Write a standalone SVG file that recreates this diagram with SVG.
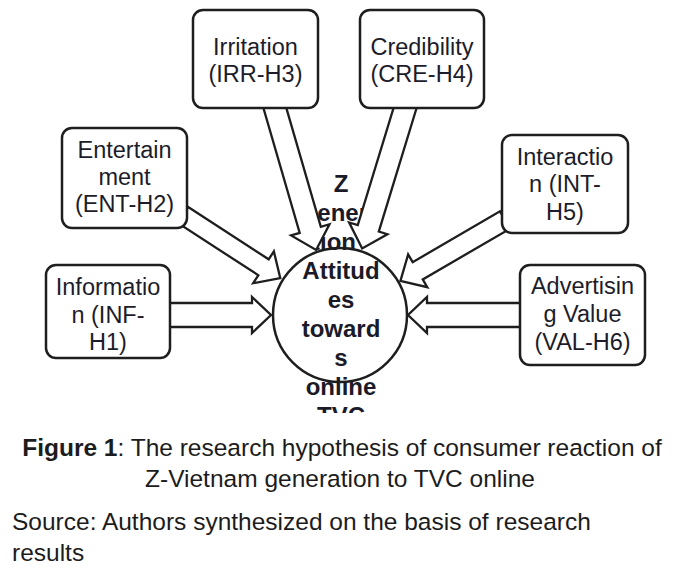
<svg xmlns="http://www.w3.org/2000/svg" width="676" height="576" viewBox="0 0 676 576">
<style>
.box{fill:#fff;stroke:#1e1e1e;stroke-width:2.5}
.arr{fill:#fff;stroke:#1e1e1e;stroke-width:2.3;stroke-linejoin:miter}
.lbl{font-family:"Liberation Sans",Arial,sans-serif;font-size:23.5px;fill:#1c1c2a;text-anchor:middle}
.ctr{font-family:"Liberation Sans",Arial,sans-serif;font-size:24px;font-weight:bold;fill:#1a1a28;text-anchor:middle}
.cap{font-family:"Liberation Sans",Arial,sans-serif;font-size:24.5px;fill:#1c1c1c}
</style>
<defs>
<clipPath id="clipc"><rect x="0" y="0" width="676" height="413"/></clipPath>
</defs>
<rect width="676" height="576" fill="#fff"/>

<g id="center-text" clip-path="url(#clipc)">
<text class="ctr" x="341" y="192">Z</text>
<text class="ctr" x="340" y="221">Genera</text>
<text class="ctr" x="334" y="250">tion</text>
<text class="ctr" x="341" y="279">Attitud</text>
<text class="ctr" x="341" y="308">es</text>
<text class="ctr" x="341" y="337">toward</text>
<text class="ctr" x="341" y="366">s</text>
<text class="ctr" x="341" y="395">online</text>
<text class="ctr" x="341" y="424">TVC</text>
</g>

<g id="center">
<circle cx="340" cy="315" r="67" fill="none" stroke="#1e1e1e" stroke-width="2.5"/>
</g>

<g id="connectors">
<polygon class="arr" transform="translate(274,105) rotate(73.8)" points="0,-11 130,-11 130,-20 151,0 130,20 130,11 0,11"/>
<polygon class="arr" transform="translate(406,105) rotate(107)" points="0,-11 129,-11 129,-20 150,0 129,20 129,11 0,11"/>
<polygon class="arr" transform="translate(183,215) rotate(33)" points="0,-9.5 96,-9.5 96,-19 116,0 96,19 96,9.5 0,9.5"/>
<polygon class="arr" transform="translate(505,220) rotate(149.8)" points="0,-10 101,-10 101,-19 121,0 101,19 101,10 0,10"/>
<polygon class="arr" transform="translate(165,315)" points="0,-12 87,-12 87,-18 106,0 87,18 87,12 0,12"/>
<polygon class="arr" transform="translate(525,315) rotate(180)" points="0,-12 98,-12 98,-18 117,0 98,18 98,12 0,12"/>
</g>

<g id="irritation">
<rect class="box" x="193" y="10" width="125" height="98" rx="10"/>
<text class="lbl" x="255.5" y="55">Irritation</text>
<text class="lbl" x="255.5" y="82">(IRR-H3)</text>
</g>
<g id="credibility">
<rect class="box" x="360" y="10" width="124" height="98" rx="10"/>
<text class="lbl" x="422" y="55">Credibility</text>
<text class="lbl" x="422" y="82">(CRE-H4)</text>
</g>
<g id="entertainment">
<rect class="box" x="62" y="128" width="125" height="100" rx="10"/>
<text class="lbl" x="124.5" y="158">Entertain</text>
<text class="lbl" x="124.5" y="185">ment</text>
<text class="lbl" x="124.5" y="212">(ENT-H2)</text>
</g>
<g id="information">
<rect class="box" x="46" y="265" width="124" height="93" rx="10"/>
<text class="lbl" x="108" y="295">Informatio</text>
<text class="lbl" x="108" y="323">n (INF-</text>
<text class="lbl" x="108" y="350">H1)</text>
</g>
<g id="interaction">
<rect class="box" x="502" y="135" width="126" height="98" rx="10"/>
<text class="lbl" x="565" y="165">Interactio</text>
<text class="lbl" x="565" y="192">n (INT-</text>
<text class="lbl" x="565" y="220">H5)</text>
</g>
<g id="advertising">
<rect class="box" x="520" y="265" width="125" height="100" rx="10"/>
<text class="lbl" x="582.5" y="294">Advertisin</text>
<text class="lbl" x="582.5" y="322">g Value</text>
<text class="lbl" x="582.5" y="350">(VAL-H6)</text>
</g>

<g id="caption">
<text class="cap" x="342" y="456" text-anchor="middle"><tspan font-weight="bold">Figure 1</tspan>: The research hypothesis of consumer reaction of</text>
<text class="cap" x="340" y="487" text-anchor="middle">Z-Vietnam generation to TVC online</text>
<text class="cap" x="12" y="530">Source: Authors synthesized on the basis of research</text>
<text class="cap" x="12" y="561">results</text>
</g>
</svg>
